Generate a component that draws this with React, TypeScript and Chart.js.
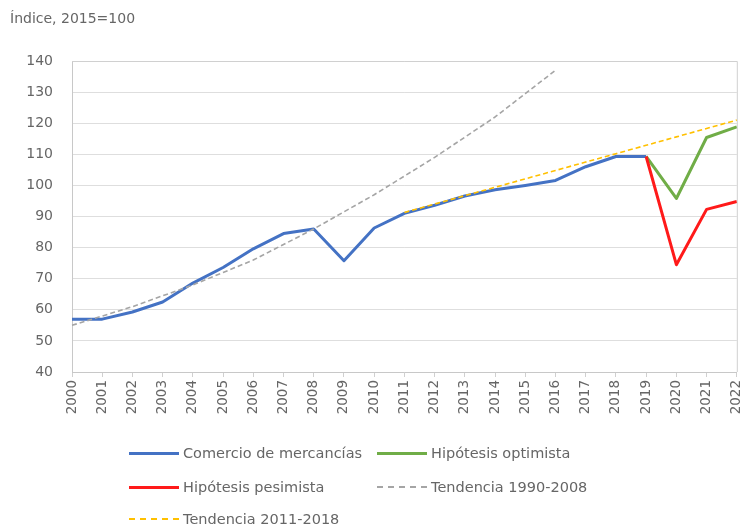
import React, { useEffect, useRef } from "react";
import { Chart, registerables } from "chart.js";

Chart.register(...registerables);

const years = ["2000","2001","2002","2003","2004","2005","2006","2007","2008","2009","2010","2011","2012","2013","2014","2015","2016","2017","2018","2019","2020","2021","2022"];

const comercio = [57, 57, 59.3, 62.5, 68.6, 73.6, 79.6, 84.5, 86, 75.8, 86.3, 91, 93.6, 96.6, 98.6, 100, 101.6, 106, 109.3, 109.3, null, null, null];
const optimista = [null, null, null, null, null, null, null, null, null, null, null, null, null, null, null, null, null, null, null, 109.3, 95.8, 115.4, 118.8];
const pesimista = [null, null, null, null, null, null, null, null, null, null, null, null, null, null, null, null, null, null, null, 109.3, 74.5, 92.3, 94.8];
const tendencia9008 = [55, 58, 61, 64.5, 68, 72, 76, 81, 86, 91.5, 97, 103, 109, 115.5, 122, 129.5, 137, null, null, null, null, null, null];
const tendencia1118 = [null, null, null, null, null, null, null, null, null, null, null, 91.3, 94, 96.7, 99.4, 102.1, 104.8, 107.5, 110.2, 112.9, 115.6, 118.3, 121];

const legendItems = [
  { label: "Comercio de mercancías", color: "#4472c4", dashed: false, x: 129, y: 453 },
  { label: "Hipótesis optimista", color: "#70ad47", dashed: false, x: 377, y: 453 },
  { label: "Hipótesis pesimista", color: "#ff1a1a", dashed: false, x: 129, y: 487 },
  { label: "Tendencia 1990-2008", color: "#a5a5a5", dashed: true, x: 377, y: 487 },
  { label: "Tendencia 2011-2018", color: "#ffc000", dashed: true, x: 129, y: 519 },
];

const FONT = "'DejaVu Sans', sans-serif";

export default function App() {
  const ref = useRef<HTMLCanvasElement | null>(null);
  useEffect(() => {
    if (!ref.current) return;
    const borderPlugin = {
      id: "plotBorder",
      afterDraw(chart: any) {
        const { ctx, chartArea } = chart;
        ctx.save();
        ctx.strokeStyle = "#d0d0d0";
        ctx.lineWidth = 1;
        ctx.beginPath();
        ctx.moveTo(chartArea.left, chartArea.top + 0.5);
        ctx.lineTo(chartArea.right + 0.5, chartArea.top + 0.5);
        ctx.lineTo(chartArea.right + 0.5, chartArea.bottom);
        ctx.stroke();
        ctx.restore();
      },
    };
    const chart = new Chart(ref.current, {
      type: "line",
      data: {
        labels: years,
        datasets: [
          { label: "Tendencia 2011-2018", data: tendencia1118, borderColor: "#ffc000", borderWidth: 1.6, borderDash: [5, 3], pointRadius: 0, order: 0 },
          { label: "Tendencia 1990-2008", data: tendencia9008, borderColor: "#a5a5a5", borderWidth: 1.6, borderDash: [5, 3], pointRadius: 0, order: 1 },
          { label: "Hipótesis pesimista", data: pesimista, borderColor: "#ff1a1a", borderWidth: 3, pointRadius: 0, order: 2 },
          { label: "Hipótesis optimista", data: optimista, borderColor: "#70ad47", borderWidth: 3, pointRadius: 0, order: 3 },
          { label: "Comercio de mercancías", data: comercio, borderColor: "#4472c4", borderWidth: 3, pointRadius: 0, order: 4 },
        ],
      },
      options: {
        responsive: false,
        animation: false,
        layout: { padding: { top: 61, right: 8, left: 0, bottom: 105 } },
        plugins: { legend: { display: false }, tooltip: { enabled: false } },
        elements: { line: { tension: 0, borderCapStyle: "butt", borderJoinStyle: "round" } },
        scales: {
          x: {
            offset: false,
            afterFit: (s: any) => { s.height = 50; },
            grid: { drawOnChartArea: false, tickLength: 5, color: "#d0d0d0" },
            border: { color: "#c8c8c8" },
            ticks: { minRotation: 90, maxRotation: 90, autoSkip: false, padding: 3, color: "#666666", font: { family: FONT, size: 13.5 } },
          },
          y: {
            min: 40,
            max: 140,
            afterFit: (s: any) => { s.width = 72; },
            grid: { color: "#dedede", drawTicks: false },
            border: { color: "#c8c8c8", display: true },
            ticks: { stepSize: 10, padding: 19, color: "#666666", font: { family: FONT, size: 14 } },
          },
        },
      },
      plugins: [borderPlugin],
    } as any);
    return () => chart.destroy();
  }, []);

  return (
    <div style={{ position: "absolute", left: 0, top: 0, width: 756, height: 527, background: "#fff", fontFamily: FONT }}>
      <canvas ref={ref} width={756} height={527} style={{ position: "absolute", left: 0, top: 0 }} />
      <div style={{ position: "absolute", left: 10, top: 9, fontSize: 14, lineHeight: "18px", color: "#666666" }}>Índice, 2015=100</div>
      {legendItems.map((it) => (
        <div key={it.label} style={{ position: "absolute", left: it.x, top: it.y - 9, height: 18, display: "flex", alignItems: "center", whiteSpace: "nowrap" }}>
          <div style={{ width: 50, borderTop: it.dashed ? `2px dashed ${it.color}` : `3px solid ${it.color}`, marginRight: 4 }} />
          <span style={{ fontSize: 14.5, color: "#666666" }}>{it.label}</span>
        </div>
      ))}
    </div>
  );
}
